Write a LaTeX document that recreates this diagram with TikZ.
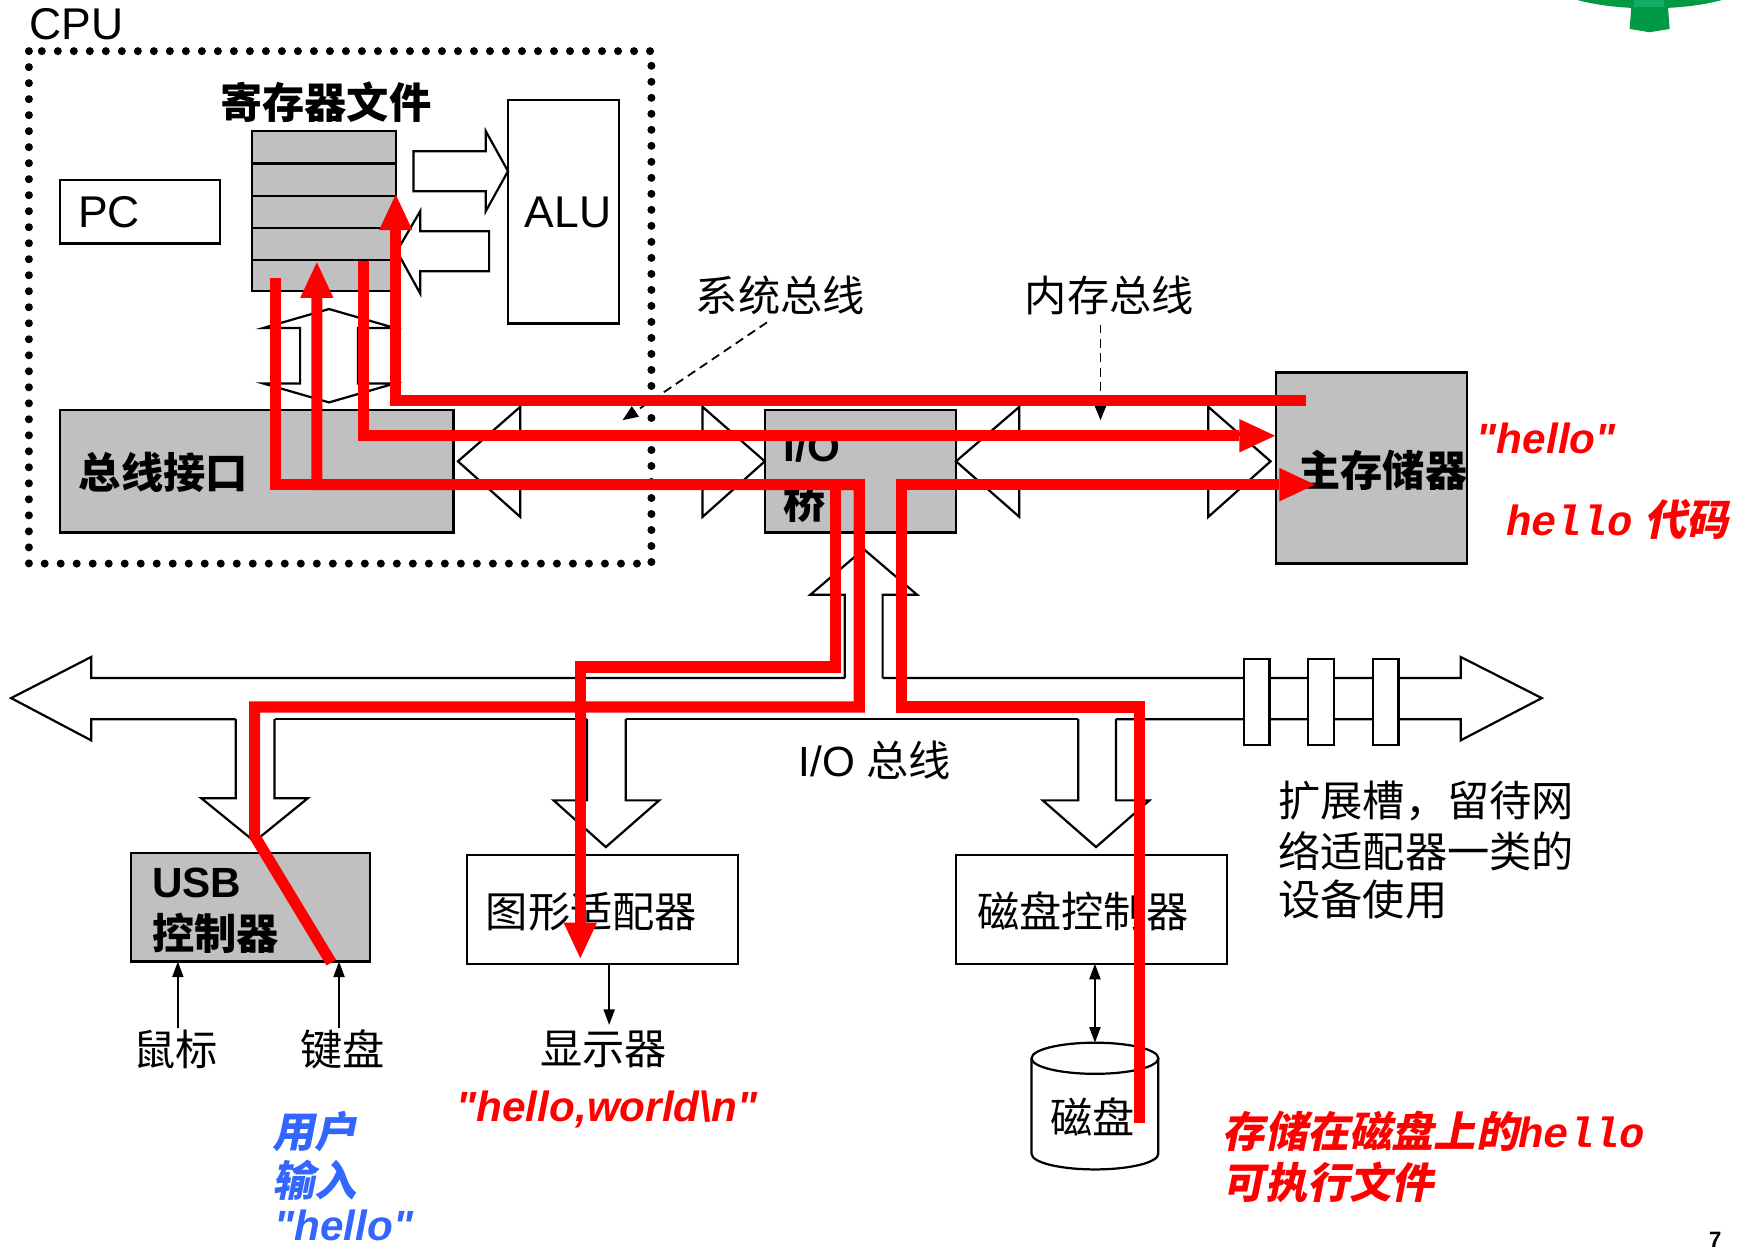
\documentclass[tikz,border=0pt]{standalone}
\usepackage{fontspec}
\setmainfont{Liberation Sans}
\newfontfamily\qfont{Liberation Sans}
\newfontfamily\cjk{Noto Sans CJK SC}
\newfontfamily\cjksl{Noto Sans CJK SC}[FakeSlant=0.2]
\newfontfamily\monofnt{Liberation Mono}
\usetikzlibrary{arrows.meta,fit}
\definecolor{boxgray}{RGB}{192,192,192}
\definecolor{hred}{RGB}{255,0,0}
\definecolor{hblue}{RGB}{51,102,255}
\definecolor{logogreen}{RGB}{0,154,68}
\definecolor{logolight}{RGB}{20,172,100}
\newcommand\fsz{\fontsize{19}{23}\selectfont}
\newcommand\fsl{\fontsize{20}{24}\selectfont}
\tikzset{
  gbox/.style={draw=black, line width=1pt, fill=boxgray, inner sep=0pt},
  wbox/.style={draw=black, line width=1pt, fill=white, inner sep=0pt},
  hollow/.style={draw=black, line width=1pt, line join=miter},
  redline/.style={draw=hred, line width=5pt, line join=miter},
  redarrow/.style={redline, -{Triangle[length=16pt,width=15pt,line width=0pt]}},
  cpudots/.style={line width=3.6pt, line cap=round, dash pattern=on 0pt off 7.2pt},
  dasharrow/.style={line width=0.8pt, dash pattern=on 4pt off 2.5pt, -{Triangle[length=7pt,width=5.5pt]}},
  thinarrow/.style={line width=0.8pt, -{Triangle[length=7pt,width=5pt]}},
  dblarrow/.style={line width=0.8pt, {Triangle[length=7pt,width=5pt]}-{Triangle[length=7pt,width=5pt]}},
}
\begin{document}
\begin{tikzpicture}[x=0.5pt,y=-0.5pt, every node/.style={inner sep=0pt, outer sep=0pt}]
\useasboundingbox (0,0) rectangle (1568,1124);

% logo fragment (top right)
\fill[logogreen] (1419,0) .. controls (1455,10) and (1513,10) .. (1549,0) -- cycle;
\fill[logogreen] (1468,0) -- (1500,0) -- (1502,26) -- (1484,29) -- (1466,26) -- cycle;
\fill[logolight] (1470,0) rectangle (1497,6);

% CPU
\draw[cpudots] (26,46) rectangle (586,507);
\node[font=\fsl] (cpulbl) at (69,22) {CPU};

% register file
\node[gbox, fit={(227,118) (356,262)}] (regs) {};
\foreach \yy in {147,176,205,234} \draw[line width=1pt] (227,\yy) -- (356,\yy);
\node[font=\fsz\cjk\bfseries] (regslbl) at (293,92) {寄存器文件};

% PC
\node[wbox, fit={(54,162) (198,219)}] (pc) {};
\node[font=\fsl] (pclbl) at (98,191) {PC};

% ALU
\node[wbox, fit={(457,90) (557,291)}] (alu) {};
\node[font=\fsl] (alulbl) at (511,191) {ALU};

% arrows between register file and ALU
\draw[hollow] (372,136) -- (437,136) -- (437,118) -- (457,154) -- (437,190) -- (437,172) -- (372,172) -- cycle;
\draw[hollow] (440,208) -- (378,208) -- (378,190) -- (357,226) -- (378,264) -- (378,244) -- (440,244) -- cycle;

% register file <-> bus interface
\draw[hollow] (296,278) -- (355,295) -- (322,295) -- (322,345) -- (355,345) -- (296,362) -- (237,345) -- (270,345) -- (270,295) -- (237,295) -- cycle;

% bus interface
\node[gbox, fit={(54,369) (408,479)}] (busif) {};
\node[font=\fsz\cjk\bfseries] (busiflbl) at (147,425) {总线接口};

% system bus
\draw[hollow] (412,415) -- (468,366) -- (468,393) -- (632,393) -- (632,366) -- (688,415) -- (632,465) -- (632,437) -- (468,437) -- (468,465) -- cycle;

% I/O bridge
\node[gbox, fit={(688,369) (860,479)}] (bridge) {};
\node[font=\fsz\bfseries, anchor=west] (bridgel1) at (705,402) {I/O};
\node[font=\fsz\cjk\bfseries, anchor=west] (bridgel2) at (705,452) {桥};

% memory bus
\draw[hollow] (860,415) -- (917,366) -- (917,393) -- (1087,393) -- (1087,366) -- (1143,415) -- (1087,465) -- (1087,437) -- (917,437) -- (917,465) -- cycle;

% main memory
\node[gbox, fit={(1148,335) (1320,507)}] (mem) {};
\node[font=\fsz\cjk\bfseries] (memlbl) at (1244,423) {主存储器};

% bus labels
\node[font=\fsz\cjk] (syslbl) at (702,266) {系统总线};
\node[font=\fsz\cjk] (memblbl) at (998,266) {内存总线};
\coordinate (sysfrom) at (690,290);
\coordinate (systo) at (560,378);
\coordinate (memfrom) at (990,292);
\coordinate (memto) at (990,378);
\draw[dasharrow] (sysfrom) -- (systo);
\draw[dasharrow] (memfrom) -- (memto);

% I/O bus
\draw[hollow] (760,610) -- (82,610) -- (82,591) -- (10,628) -- (82,666) -- (82,647) -- (212,647);
\draw[hollow] (247,647) -- (528,647);
\draw[hollow] (563,647) -- (970,647);
\draw[hollow] (1004,647) -- (1314,647) -- (1314,666) -- (1387,628) -- (1314,591) -- (1314,610) -- (794,610);
\draw[hollow] (212,647) -- (212,718) -- (181,718) -- (229,757) -- (277,718) -- (247,718) -- (247,647);
\draw[hollow] (528,647) -- (528,720) -- (498,720) -- (545,762) -- (593,720) -- (563,720) -- (563,647);
\draw[hollow] (970,647) -- (970,720) -- (938,720) -- (986,762) -- (1034,720) -- (1004,720) -- (1004,647);
\draw[hollow] (760,610) -- (760,535) -- (729,535) -- (777,494) -- (825,535) -- (794,535) -- (794,610);
\foreach \sx in {1119,1177,1235} \draw[hollow, fill=white] (\sx,593) rectangle ++(23,77);
\node[font=\fsz] (iobuslbl) at (787,684) {I/O {\cjk 总线}};

% USB controller
\node[gbox, fit={(118,767) (333,865)}] (usb) {};
\node[font=\fsz\bfseries, anchor=west] (usbl1) at (137,794) {USB};
\node[font=\fsz\cjk\bfseries, anchor=west] (usbl2) at (137,840) {控制器};

% graphics adapter
\node[wbox, fit={(420,769) (664,867)}] (gfx) {};
\node[font=\fsz\cjk] (gfxlbl) at (532,820) {图形适配器};

% disk controller
\node[wbox, fit={(860,769) (1104,867)}] (dctl) {};
\node[font=\fsz\cjk] (dctllbl) at (974,820) {磁盘控制器};

% devices
\node[font=\fsz\cjk] (mouse) at (158,944) {鼠标};
\node[font=\fsz\cjk] (kbd) at (308,944) {键盘};
\node[font=\fsz\cjk] (disp) at (543,944) {显示器};
\coordinate (mousetop) at (160,925);
\coordinate (kbdtop) at (305,925);
\coordinate (disptop) at (548,922);
\draw[thinarrow] (mousetop) -- (mousetop |- usb.south);
\draw[thinarrow] (kbdtop) -- (kbdtop |- usb.south);
\draw[thinarrow] (disptop |- gfx.south) -- (disptop);

% disk
\coordinate (disk) at (985,952);
\draw[line width=1pt, fill=white] (928,952) -- (928,1038) arc[start angle=180, end angle=0, x radius=57, y radius=14] -- (1042,952);
\draw[line width=1pt] (disk) ellipse [x radius=57, y radius=14];
\node[font=\fsz\cjk] (disklbl) at (983,1005) {磁盘};
\coordinate (disktop) at (985,938);
\draw[dblarrow] (disktop |- dctl.south) -- (disktop);

% expansion slots text
\node[font=\fsz\cjk, anchor=west] (exp1) at (1150,721) {扩展槽，留待网};
\node[font=\fsz\cjk, anchor=west] (exp2) at (1150,766) {络适配器一类的};
\node[font=\fsz\cjk, anchor=west] (exp3) at (1150,809) {设备使用};

% red data paths
\draw[redarrow] (298,866) -- (229,752) -- (229,636) -- (773,636) -- (773,436) -- (285,436) -- (285,236);
\draw[redarrow] (248,250) -- (248,436) -- (752,436) -- (752,600) -- (522,600) -- (522,862);
\draw[redarrow] (1025,1010) -- (1025,636) -- (811,636) -- (811,436) -- (1183,436);
\draw[redarrow] (1175,360) -- (356,360) -- (356,175);
\draw[redarrow] (327,235) -- (327,392) -- (1147,392);

% annotations
\node[font=\fsz\qfont\bfseries\itshape, text=hred] (memhello) at (1391,394) {"hello"};
\node[font=\fsz, text=hred, anchor=west] (memcode) at (1355,467) {{\monofnt\bfseries\itshape hello} {\cjksl\bfseries 代码}};
\node[font=\fsz\qfont\bfseries\itshape, text=hred] (hw) at (546,998) {"hello,world\textbackslash n"};
\node[font=\fsz\cjksl\bfseries, text=hblue, anchor=west] (u1) at (245,1018) {用户};
\node[font=\fsz\cjksl\bfseries, text=hblue, anchor=west] (u2) at (245,1062) {输入};
\node[font=\fsz\qfont\bfseries\itshape, text=hblue, anchor=west] (u3) at (247,1102) {"hello"};
\node[font=\fsz, text=hred, anchor=west] (dk1) at (1100,1018) {{\cjksl\bfseries 存储在磁盘上的}{\monofnt\bfseries\itshape hello}};
\node[font=\fsz\cjksl\bfseries, text=hred, anchor=west] (dk2) at (1100,1064) {可执行文件};
\node[font=\fontsize{10}{12}\selectfont\bfseries] (pg) at (1543,1115) {7};
\end{tikzpicture}
\end{document}
